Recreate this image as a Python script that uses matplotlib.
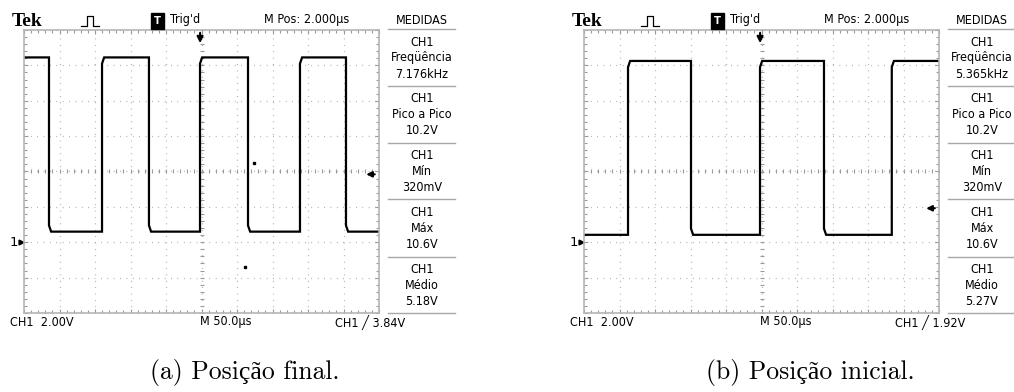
import numpy as np
import matplotlib.pyplot as plt
from matplotlib.lines import Line2D
from matplotlib.ticker import MultipleLocator

# readings from the two scope screenshots (time in us, voltage in V, 2 V/div, 50 us/div)
edges_a = [35.2, 109.9, 176.0, 247.9, 315.5, 388.7, 453.5]   # starts high
high_a, low_a = 10.45, 0.6
edges_b = [62.0, 150.7, 247.9, 338.0, 433.5]                 # starts low
high_b, low_b = 10.25, 0.42
stray_a_t = [324, 311]
stray_a_v = [4.49, -1.39]

trig_time = 248.0
trig_level_a = 3.84
trig_level_b = 1.92

meas_names = ['Freqüência', 'Pico a Pico', 'Mín', 'Máx', 'Médio']
meas_a = ['7.176kHz', '10.2V', '320mV', '10.6V', '5.18V']
meas_b = ['5.365kHz', '10.2V', '320mV', '10.6V', '5.27V']
captions = ['(a) Posição final.', '(b) Posição inicial.']

W, H = 1014, 392
fig = plt.figure(figsize=(W / 100, H / 100), dpi=100)
scope_font = ['DejaVu Sans']
grid_col = '#9a9a9a'


def ftext(x, y, s, **kw):
    kw.setdefault('family', scope_font)
    kw.setdefault('fontstretch', 'condensed')
    kw.setdefault('fontsize', 9)
    kw.setdefault('va', 'center')
    fig.text(x / W, 1 - y / H, s, **kw)


def fline(xs, ys, **kw):
    fig.add_artist(Line2D([x / W for x in xs], [1 - y / H for y in ys], **kw))


def square(edges, first_high, hi, lo):
    xs, ys = [0], [hi if first_high else lo]
    is_high = first_high
    for t in edges:
        cur, nxt = (hi, lo) if is_high else (lo, hi)
        xs += [t, t, t + 3]
        ys += [cur, nxt + (0.35 if is_high else -0.35), nxt]
        is_high = not is_high
    xs.append(500)
    ys.append(hi if is_high else lo)
    return xs, ys


def panel(ox, edges, first_high, hi, lo, trig_level, meas):
    ax = fig.add_axes([(ox + 24) / W, 1 - 313 / H, 355 / W, 283 / H])
    ax.set_xlim(0, 500)
    ax.set_ylim(-4, 12)
    ax.set_xticks(np.arange(0, 501, 50))
    ax.set_yticks(np.arange(-4, 12.1, 2))
    ax.xaxis.set_minor_locator(MultipleLocator(10))
    ax.yaxis.set_minor_locator(MultipleLocator(0.4))
    ax.tick_params(which='both', direction='in', labelbottom=False, labelleft=False,
                   top=True, right=True, color=grid_col, width=0.8)
    ax.tick_params(which='major', length=3)
    ax.tick_params(which='minor', length=2.5)
    ax.grid(True, color=grid_col, linestyle=(0, (0.6, 4.5)), lw=0.9)
    for s in ax.spines.values():
        s.set_color('#b5b5b5')
        s.set_linewidth(1.2)
    # centre lines with small ticks
    ax.plot(np.arange(0, 501, 10), np.full(51, 4.0), ls='none', marker='|',
            ms=3.5, mew=0.8, color=grid_col)
    ax.plot(np.full(41, 250.0), np.arange(-4, 12.01, 0.4), ls='none', marker='_',
            ms=3.5, mew=0.8, color=grid_col)

    xs, ys = square(edges, first_high, hi, lo)
    ax.plot(xs, ys, color='black', lw=1.6, solid_joinstyle='miter')

    # trigger arrows
    ax.annotate('', xy=(trig_time, 11.1), xytext=(trig_time, 12.0),
                arrowprops=dict(arrowstyle='-|>', color='black', lw=1.5, mutation_scale=9),
                annotation_clip=False)
    ax.annotate('', xy=(478, trig_level), xytext=(498, trig_level),
                arrowprops=dict(arrowstyle='-|>', color='black', lw=1.5, mutation_scale=8),
                annotation_clip=False)
    # ground marker
    ax.plot([-4], [0], marker='>', ms=3.5, color='black', clip_on=False)
    ax.text(-9, 0, '1', ha='right', va='center', family=scope_font, fontsize=9.5)

    # header
    ftext(ox + 12, 21, 'Tek', family=['Liberation Serif'], fontstretch='normal',
          fontweight='bold', fontsize=14)
    fline([ox + 81, ox + 87, ox + 87, ox + 93, ox + 93, ox + 99],
          [26, 26, 16, 16, 26, 26], color='black', lw=0.9)
    ftext(ox + 157.5, 21, 'T', color='white', fontsize=8, ha='center', fontweight='bold',
          bbox=dict(boxstyle='square,pad=0.3', fc='black', ec='black'))
    ftext(ox + 170, 20, "Trig'd")
    ftext(ox + 264, 20, 'M Pos: 2.000µs')
    ftext(ox + 422, 20, 'MEDIDAS', ha='center')

    # measurement column
    for yy in [29, 86, 143, 199, 257, 313]:
        fline([ox + 388, ox + 455], [yy, yy], color='#a8a8a8', lw=1.0)
    for i, (name, val) in enumerate(zip(meas_names, meas)):
        y0 = 42 + i * 56.8
        ftext(ox + 422, y0, 'CH1', ha='center')
        ftext(ox + 422, y0 + 16, name, ha='center')
        ftext(ox + 422, y0 + 32, val, ha='center')

    # footer
    ftext(ox + 10, 322, 'CH1  2.00V')
    ftext(ox + 200, 322, 'M 50.0µs')
    ftext(ox + 335, 322, 'CH1 ╱ %.2fV' % trig_level)
    return ax


ax_a = panel(0, edges_a, True, high_a, low_a, trig_level_a, meas_a)
ax_a.plot(stray_a_t, stray_a_v, ls='none', marker='s', ms=1.5, color='black')
panel(560, edges_b, False, high_b, low_b, trig_level_b, meas_b)

fig.text(245 / W, 1 - 372 / H, captions[0], ha='center', va='center',
         family=['cmr10', 'Liberation Serif'], fontsize=18.5)
fig.text(810 / W, 1 - 372 / H, captions[1], ha='center', va='center',
         family=['cmr10', 'Liberation Serif'], fontsize=18.5)

fig.savefig('out.png', dpi=100)
